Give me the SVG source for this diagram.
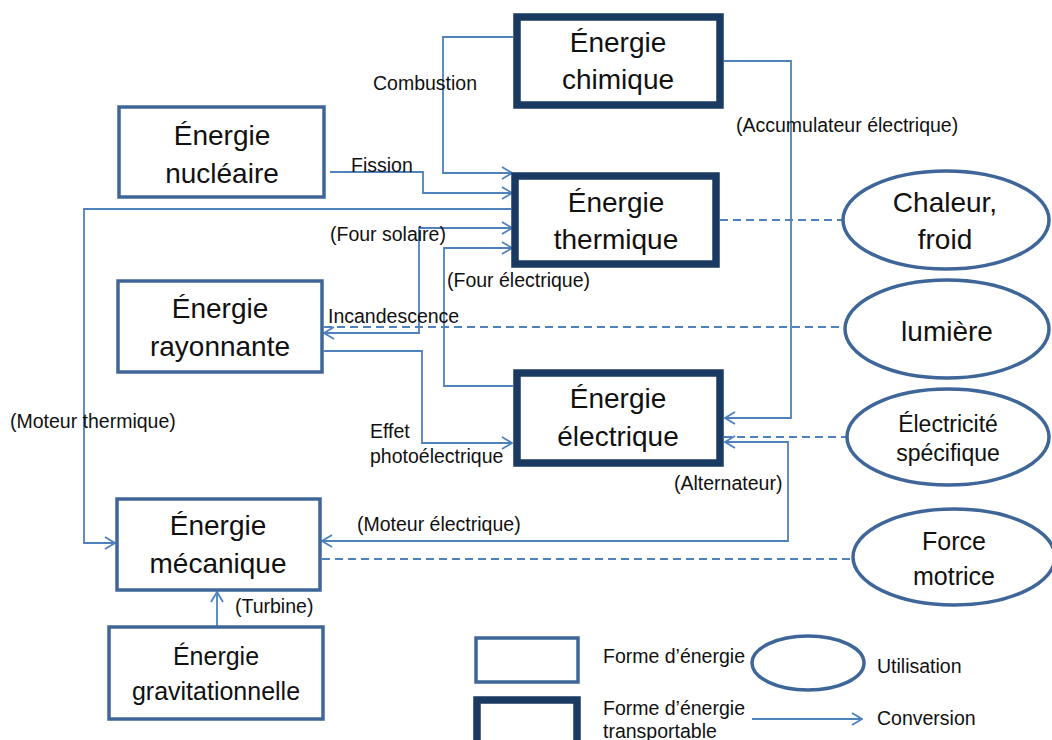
<svg xmlns="http://www.w3.org/2000/svg" width="1052" height="740" viewBox="0 0 1052 740">
<style>
.bg{fill:#ffffff}
.thin{fill:#ffffff;stroke:#3f6699;stroke-width:3.5}
.thick{fill:#ffffff;stroke:#1a3a62;stroke-width:7.5}
.ell{fill:#ffffff;stroke:#3f6699;stroke-width:3.5}
.conn{fill:none;stroke:#4f81bd;stroke-width:1.8}
.dash{fill:none;stroke:#4f81bd;stroke-width:2;stroke-dasharray:8 5}
text{font-family:"Liberation Sans",Arial,sans-serif;fill:#111111}
.big{font-size:28px;text-anchor:middle}
.mid{font-size:25px;text-anchor:middle}
.sm{font-size:19.5px}
.smc{font-size:23px;text-anchor:middle}
</style>
<defs>
<marker id="arr" viewBox="0 0 12 14" refX="11" refY="7" markerWidth="12" markerHeight="14" markerUnits="userSpaceOnUse" orient="auto-start-reverse">
<path d="M1,1 L11,7 L1,13" fill="none" stroke="#4f81bd" stroke-width="1.8"/>
</marker>
</defs>
<rect class="bg" x="0" y="0" width="1052" height="740"/>

<g id="connectors">
<path class="conn" d="M513,37 H443 V173 H512" marker-end="url(#arr)"/>
<path class="conn" d="M330,172 H423 V193 H512" marker-end="url(#arr)"/>
<path class="conn" d="M511,209 H84 V543 H115" marker-end="url(#arr)"/>
<path class="conn" d="M324,333 H419 V228 H512" marker-start="url(#arr)" marker-end="url(#arr)"/>
<path class="conn" d="M513,386 H444 V248 H512" marker-end="url(#arr)"/>
<path class="conn" d="M324,351 H422 V443 H512" marker-end="url(#arr)"/>
<path class="conn" d="M724,61 H791 V418 H725" marker-end="url(#arr)"/>
<path class="conn" d="M725,442 H788 V541 H322" marker-start="url(#arr)" marker-end="url(#arr)"/>
<path class="conn" d="M217,627 V592" marker-end="url(#arr)"/>
<path class="dash" d="M720,220 H843"/>
<path class="dash" d="M324,327 H845"/>
<path class="dash" d="M724,437 H847"/>
<path class="dash" d="M322,559 H852"/>
<text class="sm" x="373" y="90">Combustion</text>
<text class="sm" x="351" y="172">Fission</text>
<text class="sm" x="330" y="241">(Four solaire)</text>
<text class="sm" x="328" y="323">Incandescence</text>
<text class="sm" x="447" y="287">(Four électrique)</text>
<text class="sm" x="370" y="438">Effet</text>
<text class="sm" x="370" y="463">photoélectrique</text>
<text class="sm" x="736" y="132">(Accumulateur électrique)</text>
<text class="sm" x="674" y="490">(Alternateur)</text>
<text class="sm" x="357" y="531">(Moteur électrique)</text>
<text class="sm" x="235" y="613">(Turbine)</text>
<text class="sm" x="10" y="428">(Moteur thermique)</text>
</g>

<g id="chimique">
<rect class="thick" x="517" y="17" width="203" height="88"/>
<text class="big" x="618" y="52">Énergie</text>
<text class="big" x="618" y="89">chimique</text>
</g>
<g id="thermique">
<rect class="thick" x="515" y="176" width="201" height="88"/>
<text class="big" x="616" y="212">Énergie</text>
<text class="big" x="616" y="249">thermique</text>
</g>
<g id="electrique">
<rect class="thick" x="517" y="373" width="203" height="90"/>
<text class="big" x="618" y="408">Énergie</text>
<text class="big" x="618" y="446">électrique</text>
</g>
<g id="nucleaire">
<rect class="thin" x="119" y="107" width="205" height="90"/>
<text class="big" x="222" y="145">Énergie</text>
<text class="big" x="222" y="183">nucléaire</text>
</g>
<g id="rayonnante">
<rect class="thin" x="118" y="281" width="204" height="91"/>
<text class="big" x="220" y="318">Énergie</text>
<text class="big" x="220" y="356">rayonnante</text>
</g>
<g id="mecanique">
<rect class="thin" x="117" y="499" width="203" height="91"/>
<text class="big" x="218" y="535">Énergie</text>
<text class="big" x="218" y="573">mécanique</text>
</g>
<g id="gravitationnelle">
<rect class="thin" x="109" y="627" width="214" height="92"/>
<text class="mid" x="216" y="665">Énergie</text>
<text class="mid" x="216" y="700">gravitationnelle</text>
</g>

<g id="chaleur">
<ellipse class="ell" cx="946" cy="220" rx="103" ry="49"/>
<text class="big" x="945" y="212">Chaleur,</text>
<text class="big" x="945" y="249">froid</text>
</g>
<g id="lumiere">
<ellipse class="ell" cx="947" cy="329" rx="102" ry="49"/>
<text class="big" x="947" y="341">lumière</text>
</g>
<g id="electricite">
<ellipse class="ell" cx="948" cy="437" rx="101" ry="48"/>
<text class="smc" x="948" y="432">Électricité</text>
<text class="smc" x="948" y="461">spécifique</text>
</g>
<g id="force">
<ellipse class="ell" cx="954" cy="557" rx="101" ry="48"/>
<text class="mid" x="954" y="550">Force</text>
<text class="mid" x="954" y="585">motrice</text>
</g>

<g id="legend">
<rect class="thin" x="476" y="638" width="102" height="44"/>
<rect class="thick" x="477" y="700" width="100" height="50"/>
<text class="sm" x="603" y="663">Forme d’énergie</text>
<text class="sm" x="603" y="715">Forme d’énergie</text>
<text class="sm" x="603" y="738">transportable</text>
<ellipse class="ell" cx="808" cy="663" rx="56" ry="27"/>
<text class="sm" x="877" y="673">Utilisation</text>
<path class="conn" d="M752,719 H862" marker-end="url(#arr)"/>
<text class="sm" x="877" y="725">Conversion</text>
</g>
</svg>
